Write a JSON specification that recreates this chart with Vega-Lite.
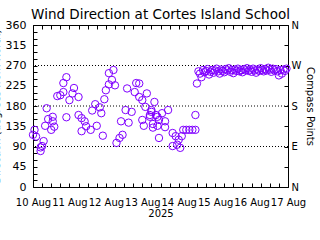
{
  "$schema": "https://vega.github.io/schema/vega-lite/v6.json",
  "width": 255,
  "height": 162,
  "autosize": {"type": "none"},
  "padding": {"left": 33, "top": 25, "right": 32, "bottom": 53},
  "background": "white",
  "config": {"font": "DejaVu Sans"},
  "title": {"text": "Wind Direction at Cortes Island School", "fontSize": 13.5, "fontWeight": "normal", "color": "black", "offset": -2},
  "datasets": {
    "wind": [
      {"t":"2025-08-10T00:00","d":116},{"t":"2025-08-10T01:00","d":127},{"t":"2025-08-10T02:00","d":112},
      {"t":"2025-08-10T05:00","d":80},{"t":"2025-08-10T05:00","d":88},{"t":"2025-08-10T06:00","d":91},
      {"t":"2025-08-10T07:00","d":102},{"t":"2025-08-10T08:00","d":136},{"t":"2025-08-10T09:00","d":175},
      {"t":"2025-08-10T10:00","d":151},{"t":"2025-08-10T12:00","d":127},{"t":"2025-08-10T13:00","d":146},
      {"t":"2025-08-10T13:00","d":156},{"t":"2025-08-10T14:00","d":134},{"t":"2025-08-10T16:00","d":202},
      {"t":"2025-08-10T18:00","d":204},{"t":"2025-08-10T20:00","d":231},{"t":"2025-08-10T20:00","d":211},
      {"t":"2025-08-10T22:00","d":244},{"t":"2025-08-10T22:00","d":155},{"t":"2025-08-11T00:00","d":193},
      {"t":"2025-08-11T02:00","d":208},{"t":"2025-08-11T03:00","d":220},{"t":"2025-08-11T06:00","d":200},
      {"t":"2025-08-11T06:00","d":160},{"t":"2025-08-11T08:00","d":153},{"t":"2025-08-11T08:00","d":124},
      {"t":"2025-08-11T10:00","d":146},{"t":"2025-08-11T11:00","d":135},{"t":"2025-08-11T14:00","d":127},
      {"t":"2025-08-11T15:00","d":170},{"t":"2025-08-11T17:00","d":184},{"t":"2025-08-11T18:00","d":136},
      {"t":"2025-08-11T20:00","d":177},{"t":"2025-08-11T21:00","d":164},{"t":"2025-08-11T22:00","d":114},
      {"t":"2025-08-11T23:00","d":195},{"t":"2025-08-12T00:00","d":215},{"t":"2025-08-12T02:00","d":253},
      {"t":"2025-08-12T02:00","d":228},{"t":"2025-08-12T04:00","d":238},{"t":"2025-08-12T05:00","d":260},
      {"t":"2025-08-12T06:00","d":226},{"t":"2025-08-12T07:00","d":98},{"t":"2025-08-12T09:00","d":109},
      {"t":"2025-08-12T10:00","d":146},{"t":"2025-08-12T11:00","d":116},{"t":"2025-08-12T13:00","d":171},
      {"t":"2025-08-12T14:00","d":219},{"t":"2025-08-12T15:00","d":143},{"t":"2025-08-12T17:00","d":167},
      {"t":"2025-08-12T19:00","d":211},{"t":"2025-08-12T20:00","d":231},{"t":"2025-08-12T22:00","d":200},
      {"t":"2025-08-12T22:00","d":230},{"t":"2025-08-13T00:00","d":193},{"t":"2025-08-13T00:00","d":149},
      {"t":"2025-08-13T01:00","d":136},{"t":"2025-08-13T02:00","d":178},{"t":"2025-08-13T03:00","d":208},
      {"t":"2025-08-13T05:00","d":160},{"t":"2025-08-13T05:00","d":156},{"t":"2025-08-13T06:00","d":171},
      {"t":"2025-08-13T06:00","d":167},{"t":"2025-08-13T07:00","d":140},{"t":"2025-08-13T07:00","d":132},
      {"t":"2025-08-13T08:00","d":189},{"t":"2025-08-13T09:00","d":160},{"t":"2025-08-13T10:00","d":156},
      {"t":"2025-08-13T10:00","d":136},{"t":"2025-08-13T11:00","d":109},{"t":"2025-08-13T11:00","d":149},
      {"t":"2025-08-13T13:00","d":164},{"t":"2025-08-13T15:00","d":133},{"t":"2025-08-13T15:00","d":146},
      {"t":"2025-08-13T17:00","d":171},{"t":"2025-08-13T20:00","d":120},{"t":"2025-08-13T20:00","d":91},
      {"t":"2025-08-13T22:00","d":113},{"t":"2025-08-13T23:00","d":94},{"t":"2025-08-14T00:00","d":105},
      {"t":"2025-08-14T01:00","d":87},{"t":"2025-08-14T02:00","d":113},{"t":"2025-08-14T03:00","d":127},
      {"t":"2025-08-14T05:00","d":127},{"t":"2025-08-14T07:00","d":127},{"t":"2025-08-14T09:00","d":127},
      {"t":"2025-08-14T11:00","d":127},{"t":"2025-08-14T11:00","d":160},{"t":"2025-08-14T12:00","d":230},
      {"t":"2025-08-14T13:00","d":257},{"t":"2025-08-14T14:00","d":252},{"t":"2025-08-14T15:00","d":244},
      {"t":"2025-08-14T16:00","d":260},{"t":"2025-08-14T17:00","d":255},{"t":"2025-08-14T18:00","d":258},
      {"t":"2025-08-14T19:00","d":262},{"t":"2025-08-14T20:00","d":250},{"t":"2025-08-14T21:00","d":256},
      {"t":"2025-08-14T22:00","d":260},{"t":"2025-08-14T23:00","d":254},{"t":"2025-08-15T00:00","d":259},
      {"t":"2025-08-15T01:00","d":263},{"t":"2025-08-15T02:00","d":257},{"t":"2025-08-15T03:00","d":252},
      {"t":"2025-08-15T04:00","d":261},{"t":"2025-08-15T05:00","d":258},{"t":"2025-08-15T06:00","d":255},
      {"t":"2025-08-15T07:00","d":262},{"t":"2025-08-15T08:00","d":259},{"t":"2025-08-15T09:00","d":264},
      {"t":"2025-08-15T10:00","d":256},{"t":"2025-08-15T11:00","d":260},{"t":"2025-08-15T12:00","d":253},
      {"t":"2025-08-15T13:00","d":261},{"t":"2025-08-15T14:00","d":258},{"t":"2025-08-15T15:00","d":263},
      {"t":"2025-08-15T16:00","d":257},{"t":"2025-08-15T17:00","d":260},{"t":"2025-08-15T18:00","d":255},
      {"t":"2025-08-15T19:00","d":262},{"t":"2025-08-15T20:00","d":259},{"t":"2025-08-15T21:00","d":264},
      {"t":"2025-08-15T22:00","d":258},{"t":"2025-08-15T23:00","d":261},{"t":"2025-08-16T00:00","d":256},
      {"t":"2025-08-16T01:00","d":263},{"t":"2025-08-16T02:00","d":259},{"t":"2025-08-16T03:00","d":254},
      {"t":"2025-08-16T04:00","d":261},{"t":"2025-08-16T05:00","d":258},{"t":"2025-08-16T06:00","d":264},
      {"t":"2025-08-16T07:00","d":260},{"t":"2025-08-16T08:00","d":257},{"t":"2025-08-16T09:00","d":262},
      {"t":"2025-08-16T10:00","d":259},{"t":"2025-08-16T11:00","d":265},{"t":"2025-08-16T12:00","d":261},
      {"t":"2025-08-16T13:00","d":256},{"t":"2025-08-16T14:00","d":263},{"t":"2025-08-16T15:00","d":259},
      {"t":"2025-08-16T16:00","d":262},{"t":"2025-08-16T17:00","d":257},{"t":"2025-08-16T18:00","d":248},
      {"t":"2025-08-16T19:00","d":260},{"t":"2025-08-16T20:00","d":252},{"t":"2025-08-16T21:00","d":261},
      {"t":"2025-08-16T22:00","d":258},{"t":"2025-08-16T23:00","d":263}
    ],
    "dotted": [{"g": 90}, {"g": 180}, {"g": 270}]
  },
  "layer": [
    {
      "data": {"name": "dotted"},
      "mark": {"type": "rule", "color": "black", "strokeWidth": 1, "strokeDash": [1, 2]},
      "encoding": {
        "y": {"field": "g", "type": "quantitative", "scale": {"domain": [0, 360], "nice": false, "zero": true}, "axis": null}
      }
    },
    {
      "data": {"name": "wind"},
      "mark": {"type": "point", "shape": "circle", "filled": false, "size": 55, "strokeWidth": 1, "color": "#8000ff", "opacity": 1},
      "encoding": {
        "x": {
          "field": "t", "type": "temporal",
          "scale": {"domain": ["2025-08-10T00:00", "2025-08-17T00:00"], "nice": false},
          "axis": {
            "orient": "bottom", "title": "2025", "grid": false,
            "tickCount": 21,
            "labelExpr": "hours(datum.value) == 0 ? timeFormat(datum.value, '%d %b') : ''",
            "labelOverlap": false, "labelFlush": false, "labelBound": false,
            "tickSize": -4, "labelPadding": 14, "domainColor": "black", "tickColor": "black",
            "labelColor": "black", "titleColor": "black", "labelFontSize": 10, "titleFontSize": 10,
            "titleFontWeight": "normal", "titlePadding": 1
          }
        },
        "y": {
          "field": "d", "type": "quantitative",
          "scale": {"domain": [0, 360], "nice": false, "zero": true},
          "axis": {
            "orient": "left", "title": "Direction (degrees from North)", "grid": false,
            "values": [0,15,30,45,60,75,90,105,120,135,150,165,180,195,210,225,240,255,270,285,300,315,330,345,360],
            "labelExpr": "datum.value % 45 == 0 ? datum.label : ''",
            "labelOverlap": false, "labelFlush": false, "labelBound": false,
            "tickSize": -4, "labelPadding": 11, "domainColor": "black", "tickColor": "black",
            "labelColor": "black", "titleColor": "black", "labelFontSize": 11, "titleFontSize": 10,
            "titleFontWeight": "normal", "titlePadding": 4
          }
        }
      }
    },
    {
      "data": {"name": "wind"},
      "mark": {"type": "point", "opacity": 0},
      "encoding": {
        "x": {
          "field": "t", "type": "temporal",
          "axis": {
            "orient": "top", "title": null, "grid": false, "labels": false,
            "tickCount": 21,
            "tickSize": -4, "domainColor": "black", "tickColor": "black"
          }
        },
        "y": {
          "field": "d", "type": "quantitative",
          "axis": {
            "orient": "right", "title": "Compass Points", "grid": false,
            "values": [0,45,90,135,180,225,270,315,360],
            "labelExpr": "datum.value == 0 || datum.value == 360 ? 'N' : datum.value == 90 ? 'E' : datum.value == 180 ? 'S' : datum.value == 270 ? 'W' : ''",
            "labelOverlap": false, "labelFlush": false, "labelBound": false,
            "tickSize": -4, "labelPadding": 7, "domainColor": "black", "tickColor": "black",
            "labelColor": "black", "titleColor": "black", "labelFontSize": 10, "titleFontSize": 10,
            "titleFontWeight": "normal", "titlePadding": 4
          }
        }
      }
    }
  ],
  "resolve": {"axis": {"x": "independent", "y": "independent"}}
}
